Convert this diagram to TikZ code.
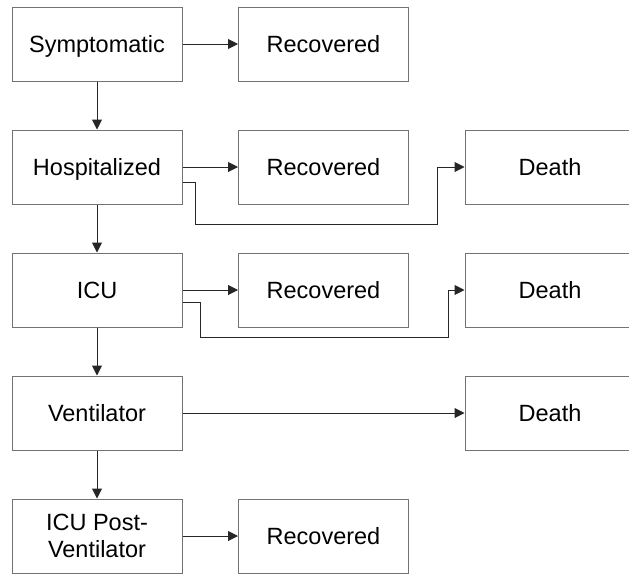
\documentclass[tikz,border=0pt]{standalone}
\usepackage{fontspec}
\setmainfont{Liberation Sans}
\usetikzlibrary{arrows.meta}

\tikzset{
    box/.style={draw=black!55, line width=1pt, minimum width=170pt, minimum height=74pt,
        inner sep=0pt, align=center, font=\fontsize{23.5}{27}\selectfont},
    oneline/.style={text height=21.8pt, text depth=5pt},
    flow/.style={draw=black!85, line width=1pt, -{Triangle[length=10pt,width=10pt]}}
}

\begin{document}
\begin{tikzpicture}[x=1pt, y=-1pt]

    \useasboundingbox (0,0) rectangle (629,576);
    \clip (0,0) rectangle (629,576);

    % Make the stages
    \node[box, oneline] (sympt) at (97,44) {Symptomatic};
    \node[box, oneline] (hosp) at (97,167) {Hospitalized};
    \node[box, oneline] (icu) at (97,290) {ICU};
    \node[box, oneline] (vent) at (97,413) {Ventilator};
    \node[box] (post) at (97,536) {ICU Post-\\Ventilator};

    % Make the recovered boxes
    \node[box, oneline] (rec1) at (323.5,44) {Recovered};
    \node[box, oneline] (rec2) at (323.5,167) {Recovered};
    \node[box, oneline] (rec3) at (323.5,290) {Recovered};
    \node[box, oneline] (rec4) at (323.5,536) {Recovered};

    % Make the death boxes
    \node[box, oneline] (death1) at (550,167) {Death};
    \node[box, oneline] (death2) at (550,290) {Death};
    \node[box, oneline] (death3) at (550,413) {Death};

    % Down the stages
    \foreach \a/\b in {sympt/hosp, hosp/icu, icu/vent, vent/post}{
        \draw[flow] (\a) -- (\b);
    }

    % Out to recovered
    \foreach \a/\b in {sympt/rec1, hosp/rec2, icu/rec3, post/rec4}{
        \draw[flow] (\a) -- (\b);
    }

    % Out to death
    \draw[flow] ([yshift=-15pt]hosp.east) -- ++(13,0) -- ++(0,42)
        -| ([xshift=-27pt]death1.west) -- (death1.west);
    \draw[flow] ([yshift=-12pt]icu.east) -- ++(18,0) -- ++(0,35)
        -| ([xshift=-16pt]death2.west) -- (death2.west);
    \draw[flow] (vent) -- (death3);

\end{tikzpicture}
\end{document}
